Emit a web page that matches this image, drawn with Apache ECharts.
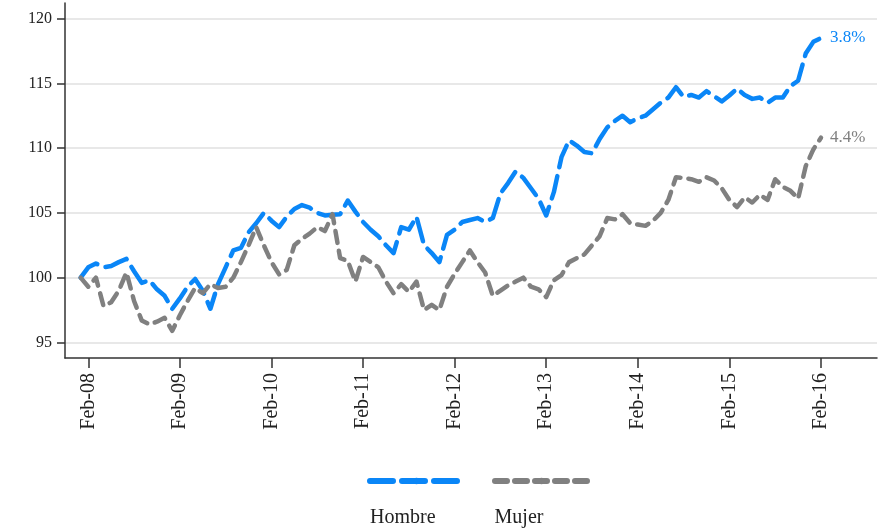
<!DOCTYPE html>
<html>
<head>
<meta charset="utf-8">
<title>Hombre / Mujer</title>
<script src="https://cdn.jsdelivr.net/npm/echarts@6/dist/echarts.min.js"></script>
<style>
* {
  margin: 0;
  padding: 0;
}
body {
  background: #fff;
}
</style>
</head>
<body>
<div id="chart" style="width: 887px;height: 529px;"></div>
<script>
// series names and end labels
var seriesNames = ['Hombre', 'Mujer'];
var endLabels = ['3.8%', '4.4%'];

// monthly index, ene-08 .. feb-16 (98 meses)
var hombre = [
  100.0, 100.8, 101.1, 100.8, 100.9, 101.2, 101.45, 100.5, 99.6, 99.8, 99.1, 98.6,
  97.6, 98.4, 99.3, 99.9, 99.0, 97.6, 99.5, 100.8, 102.1, 102.3, 103.5, 104.2,
  105.0, 104.4, 103.9, 104.7, 105.3, 105.6, 105.4, 105.0, 104.8, 104.85, 104.9, 105.95,
  105.1, 104.3, 103.7, 103.2, 102.5, 101.9, 103.9, 103.7, 104.7, 102.5, 101.9, 101.2,
  103.3, 103.7, 104.3, 104.45, 104.6, 104.3, 104.6, 106.5, 107.3, 108.2, 107.7, 106.9,
  106.1, 104.8, 106.6, 109.3, 110.6, 110.2, 109.7, 109.6, 110.7, 111.6, 112.1, 112.5,
  112.0, 112.3, 112.5, 113.0, 113.5, 113.9, 114.7, 113.95, 114.1, 113.9, 114.4, 114.0,
  113.6, 114.06, 114.6, 114.1, 113.8, 113.9, 113.5, 113.9, 113.9, 114.8, 115.2, 117.3,
  118.2, 118.5
];
var mujer = [
  100.0, 99.3, 100.0, 97.8, 98.1, 99.0, 100.4, 98.2, 96.7, 96.4, 96.6, 96.9,
  95.9, 97.1, 98.2, 99.2, 98.8, 99.5, 99.2, 99.3, 100.0, 101.2, 102.5, 103.9,
  102.5, 101.2, 100.25, 100.6, 102.5, 103.0, 103.4, 103.9, 103.6, 104.9, 101.5, 101.3,
  99.7, 101.6, 101.2, 100.8, 99.7, 98.8, 99.5, 98.9, 99.7, 97.5, 97.9, 97.5,
  99.3, 100.3, 101.2, 102.1, 101.2, 100.4, 98.6, 99.0, 99.4, 99.7, 100.0, 99.3,
  99.1, 98.5, 99.8, 100.2, 101.2, 101.5, 101.8, 102.5, 103.2, 104.6, 104.5, 104.9,
  104.2, 104.1, 104.0, 104.4, 105.0, 106.0, 107.75, 107.7, 107.6, 107.4, 107.75, 107.5,
  106.9, 106.0, 105.45, 106.2, 105.8, 106.4, 106.0, 107.6, 107.0, 106.7, 106.1, 108.6,
  109.9, 110.8
];

// x ticks (month index of each Feb) and y ticks
var xTickPos = [1, 13, 25, 37, 49, 61, 73, 85, 97];
var xTickLabels = ['Feb-08', 'Feb-09', 'Feb-10', 'Feb-11', 'Feb-12', 'Feb-13', 'Feb-14', 'Feb-15', 'Feb-16'];
var yTicks = [95, 100, 105, 110, 115, 120];

var colors = ['#0a86f7', '#808080'];
var dashes = [[23, 9], [12, 8]];
var font = 'Liberation Serif';

function toPoints(arr) {
  return arr.map(function (v, i) { return [i, v]; });
}

var chart = echarts.init(document.getElementById('chart'));
chart.setOption({
  animation: false,
  color: colors,
  grid: {
    left: 65,
    right: 10,
    top: 3,
    bottom: 171
  },
  xAxis: {
    type: 'value',
    min: -2.05,
    max: 104.34,
    axisLine: { show: true, onZero: false, lineStyle: { color: '#333', width: 1.5 } },
    axisTick: { show: true, customValues: xTickPos, length: 10, lineStyle: { color: '#333', width: 1.5 } },
    axisLabel: {
      customValues: xTickPos,
      rotate: 90,
      margin: 15,
      color: '#222',
      fontFamily: font,
      fontSize: 20,
      formatter: function (val) {
        return xTickLabels[xTickPos.indexOf(val)];
      }
    },
    splitLine: { show: false }
  },
  yAxis: {
    type: 'value',
    min: 93.8,
    max: 121.2,
    axisLine: { show: true, onZero: false, lineStyle: { color: '#333', width: 1.5 } },
    axisTick: { show: true, customValues: yTicks, length: 8, lineStyle: { color: '#333', width: 1.5 } },
    axisLabel: {
      customValues: yTicks,
      margin: 13,
      color: '#222',
      fontFamily: font,
      fontSize: 16
    },
    splitLine: { show: true, lineStyle: { color: '#e8e8e8', width: 2 } }
  },
  legend: [
    {
      // dashed line samples
      data: seriesNames,
      left: 367,
      top: 477,
      padding: 0,
      itemWidth: 93,
      itemHeight: 8,
      itemGap: 26,
      selectedMode: false,
      formatter: function () { return ''; },
      lineStyle: { width: 6 }
    },
    {
      // names under the samples
      data: seriesNames,
      left: 365,
      top: 508,
      padding: 0,
      itemWidth: 0,
      itemHeight: 0,
      itemGap: 54,
      icon: 'rect',
      selectedMode: false,
      itemStyle: { opacity: 0 },
      textStyle: { fontFamily: font, fontSize: 20, color: '#222' }
    }
  ],
  series: [
    {
      name: seriesNames[0],
      type: 'line',
      symbol: 'none',
      data: toPoints(hombre),
      lineStyle: { width: 4.5, type: dashes[0], cap: 'round', join: 'round' },
      endLabel: {
        show: true,
        formatter: endLabels[0],
        color: colors[0],
        fontFamily: font,
        fontSize: 17,
        distance: 9
      }
    },
    {
      name: seriesNames[1],
      type: 'line',
      symbol: 'none',
      data: toPoints(mujer),
      lineStyle: { width: 4.5, type: dashes[1], cap: 'round', join: 'round' },
      endLabel: {
        show: true,
        formatter: endLabels[1],
        color: colors[1],
        fontFamily: font,
        fontSize: 17,
        distance: 9
      }
    }
  ]
});
</script>
</body>
</html>
